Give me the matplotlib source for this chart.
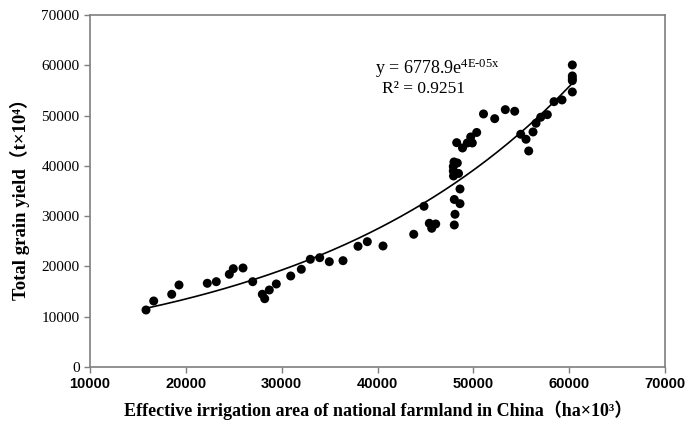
import numpy as np
import matplotlib
matplotlib.use("Agg")
import matplotlib.pyplot as plt

# Effective irrigation area (ha x 10^3)
irrigation_area = [
    15844, 16647, 18526, 19287, 22240, 23179, 24536, 24953, 25965, 26978,
    27980, 28230, 28710, 29441, 30944, 32049, 32989, 33970, 34971, 36401,
    37966, 38937, 40575, 43779, 44853, 45406, 45657, 46074,
    48014, 48087, 48014, 48609, 48609, 47931, 48452, 47910, 47910, 48327,
    47983, 48264, 48869, 49370, 49725, 49892, 50351, 51061, 52229, 53336,
    54316, 54944, 55497, 55779, 56228, 56541, 57031, 57720, 58419, 59254,
    60330, 60330, 60330, 60330, 60330,
]
# Total grain yield (t x 10^4)
grain_yield = [
    11337, 13127, 14460, 16310, 16648, 16966, 18438, 19552, 19692, 16966,
    14460, 13585, 15315, 16509, 18100, 19433, 21422, 21740, 20944, 21143,
    24007, 24922, 24067, 26394, 31963, 28582, 27588, 28443,
    28244, 30372, 33316, 32481, 35404, 37990, 38487, 38984, 39879, 40576,
    40775, 44614, 43559, 44554, 45747, 44554, 46642, 50322, 49388, 51178,
    50860, 46285, 45290, 42963, 46742, 48472, 49666, 50183, 52769, 53107,
    60068, 57880, 57343, 56945, 54697,
]
x_ticks = [10000, 20000, 30000, 40000, 50000, 60000, 70000]
y_ticks = [0, 10000, 20000, 30000, 40000, 50000, 60000, 70000]
equation_text = "y = 6778.9e$^{\\mathregular{4E\\text{-}05x}}$"
r2_text = "R² = 0.9251"
x_label = "Effective irrigation area of national farmland in China（ha×10³）"
y_label = "Total grain yield（t×10⁴）"

x = np.array(irrigation_area, dtype=float)
y = np.array(grain_yield, dtype=float)

# exponential trendline (log-linear least squares, as Excel does)
b, ln_a = np.polyfit(x, np.log(y), 1)
xf = np.linspace(x.min(), x.max(), 200)
yf = np.exp(ln_a) * np.exp(b * xf)

plt.rcParams["mathtext.fontset"] = "custom"
plt.rcParams["mathtext.rm"] = "Liberation Serif"
plt.rcParams["mathtext.it"] = "Liberation Serif"

fig = plt.figure(figsize=(6.98, 4.25), dpi=100)
ax = fig.add_axes([90/698, 1 - 367/425, (665-90)/698, (367-15)/425])

ax.plot(xf, yf, color="black", lw=1.2, zorder=2)
ax.scatter(x, y, s=42, color="black", edgecolors="none", zorder=3)

ax.set_xlim(10000, 70000)
ax.set_ylim(0, 70000)
ax.set_xticks(x_ticks)
ax.set_yticks(y_ticks)

for s in ax.spines.values():
    s.set_color("#7f7f7f")
    s.set_linewidth(1.2)
ax.tick_params(axis="both", direction="out", length=4, width=1.0, color="#7f7f7f")

serif = ["Liberation Serif", "Noto Sans CJK SC", "DejaVu Sans"]
for lab in ax.get_yticklabels():
    lab.set_fontfamily(serif)
    lab.set_fontsize(11)
for lab in ax.get_xticklabels():
    lab.set_fontfamily(["Liberation Sans Narrow", "Liberation Sans"])
    lab.set_fontweight("bold")
    lab.set_fontsize(10.5)

fig.text(437/698, 1 - 68/425, equation_text,
         ha="center", va="center", fontsize=13, family=serif)
fig.text(423/698, 1 - 89/425, r2_text,
         ha="center", va="center", fontsize=12.5, family=serif)

fig.text(378/698, 1 - 410/425, x_label, ha="center", va="center",
         fontsize=13, fontweight="bold", family=serif)
fig.text(20/698, 1 - 195/425, y_label, ha="center", va="center",
         fontsize=13.5, fontweight="bold", family=serif, rotation=90)

fig.savefig("out.png", dpi=100)
